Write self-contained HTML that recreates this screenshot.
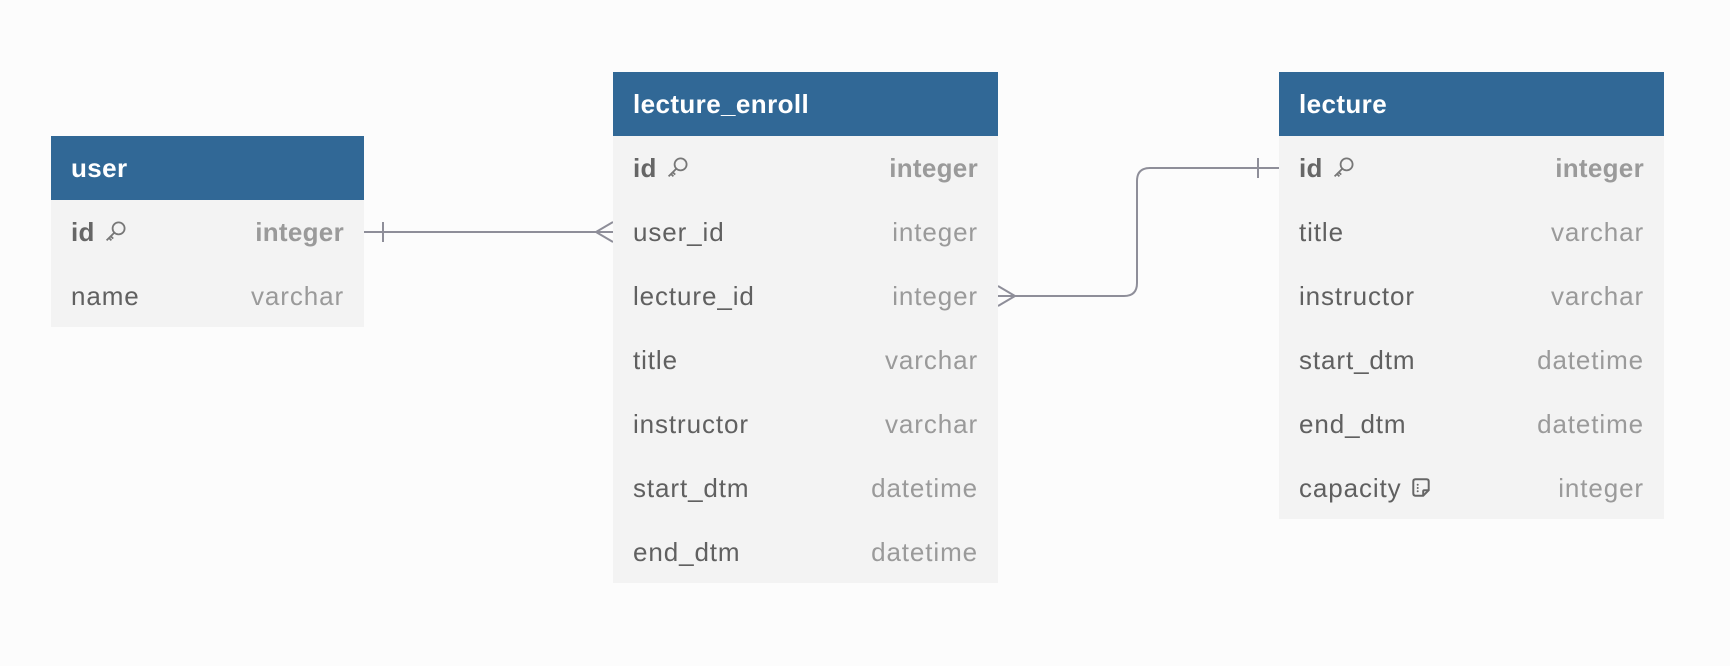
<!DOCTYPE html>
<html><head><meta charset="utf-8"><style>
html,body{margin:0;padding:0;background:#fcfcfc;width:1730px;height:666px;overflow:hidden;font-family:"Liberation Sans",sans-serif;}
.t{position:absolute;background:#f3f3f3;}
.h{height:64px;background:#316896;color:#fff;font-weight:bold;font-size:26px;letter-spacing:0.4px;line-height:64px;padding-left:20px;}
.r{height:64px;line-height:64px;font-size:26px;letter-spacing:0.9px;display:flex;justify-content:space-between;padding:0 20px;color:#606060;}
.r span:last-child{color:#9a9a9a;}
.r.pk span{font-weight:bold;letter-spacing:0.3px;}
.r.pk span:first-child{color:#666;}
.ic{display:inline-block;vertical-align:middle;margin-left:8px;margin-top:-4px;}
svg.c{position:absolute;left:0;top:0;}
</style></head><body>
<svg class="c" width="1730" height="666">
<g stroke="#8e8e99" stroke-width="2" fill="none">
<path d="M364 232 H613"/>
<path d="M383 222 V242"/>
<path d="M613 222 L596 232 L613 242"/>
<path d="M998 296 H1124 Q1137 296 1137 283 V181 Q1137 168 1150 168 H1279"/>
<path d="M1258 158 V178"/>
<path d="M998 286 L1015 296 L998 306"/>
</g>
</svg>
<div class="t" style="left:51px;top:136px;width:313px;height:191px;">
<div class="h">user</div>
<div class="r pk"><span>id<svg class="ic" width="24" height="24" viewBox="0 0 20 20"><g fill="none" stroke="#777" stroke-width="1.5"><circle cx="13" cy="7" r="5"/><path d="M9.5 10.5 L3 17 M5 15 L7 17 M6.5 13.5 L8.5 15.5"/></g></svg></span><span>integer</span></div>
<div class="r"><span>name</span><span>varchar</span></div>
</div>
<div class="t" style="left:613px;top:72px;width:385px;height:511px;">
<div class="h">lecture_enroll</div>
<div class="r pk"><span>id<svg class="ic" width="24" height="24" viewBox="0 0 20 20"><g fill="none" stroke="#777" stroke-width="1.5"><circle cx="13" cy="7" r="5"/><path d="M9.5 10.5 L3 17 M5 15 L7 17 M6.5 13.5 L8.5 15.5"/></g></svg></span><span>integer</span></div>
<div class="r"><span>user_id</span><span>integer</span></div>
<div class="r"><span>lecture_id</span><span>integer</span></div>
<div class="r"><span>title</span><span>varchar</span></div>
<div class="r"><span>instructor</span><span>varchar</span></div>
<div class="r"><span>start_dtm</span><span>datetime</span></div>
<div class="r"><span>end_dtm</span><span>datetime</span></div>
</div>
<div class="t" style="left:1279px;top:72px;width:385px;height:447px;">
<div class="h">lecture</div>
<div class="r pk"><span>id<svg class="ic" width="24" height="24" viewBox="0 0 20 20"><g fill="none" stroke="#777" stroke-width="1.5"><circle cx="13" cy="7" r="5"/><path d="M9.5 10.5 L3 17 M5 15 L7 17 M6.5 13.5 L8.5 15.5"/></g></svg></span><span>integer</span></div>
<div class="r"><span>title</span><span>varchar</span></div>
<div class="r"><span>instructor</span><span>varchar</span></div>
<div class="r"><span>start_dtm</span><span>datetime</span></div>
<div class="r"><span>end_dtm</span><span>datetime</span></div>
<div class="r"><span>capacity<svg class="ic" width="22" height="22" viewBox="0 0 20 20"><g fill="none" stroke="#666" stroke-width="1.8"><path d="M3 4 Q3 2 5 2 H15 Q17 2 17 4 V12 L12 17 H5 Q3 17 3 15 Z"/><path d="M12 17 V13 Q12 12 13 12 H17"/></g><g fill="#666"><circle cx="7" cy="7" r="0.9"/><circle cx="7" cy="10" r="0.9"/><circle cx="7" cy="13" r="0.9"/></g></svg></span><span>integer</span></div>
</div>
</body></html>
